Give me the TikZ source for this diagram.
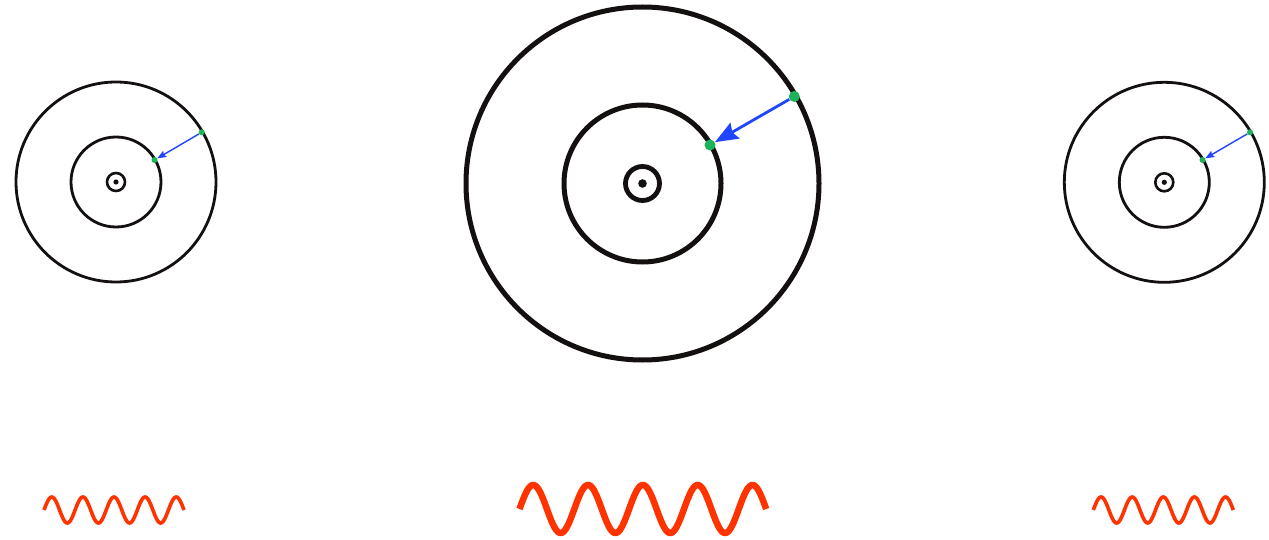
\documentclass[tikz,border=0pt]{standalone}
\usetikzlibrary{arrows.meta}
\definecolor{wavered}{HTML}{FF3300}
\definecolor{arrblue}{HTML}{1F45FF}
\definecolor{dotgreen}{HTML}{1DB35C}
\definecolor{ringblack}{HTML}{141010}
\tikzset{
  ring/.style={draw=ringblack},
  gdot/.style={circle, fill=dotgreen, inner sep=0pt},
  wave/.style={draw=wavered, line cap=butt, line join=round},
}
\begin{document}
\begin{tikzpicture}[x=1pt,y=-1pt]
\useasboundingbox[fill=white] (0,0) rectangle (1269,540);
% ---------- left atom ----------
\draw[ring, line width=2.8pt] (116,182) circle (100);
\draw[ring, line width=2.8pt] (116,182) circle (45);
\draw[ring, line width=2.6pt] (116,182) circle (9);
\fill[ringblack] (116,182) circle (2.6);
\node[gdot, minimum size=6pt] (lo) at (201.7,132.3) {};
\node[gdot, minimum size=6pt] (li) at (154.5,160) {};
\draw[arrblue, line width=1.4pt, -{Stealth[length=9pt,width=7pt,inset=1.5pt]}] (lo) -- (li);
% ---------- middle atom ----------
\draw[ring, line width=5pt] (642.5,183.5) circle (176.5);
\draw[ring, line width=5pt] (642.5,183.5) circle (78.5);
\draw[ring, line width=4.8pt] (642.5,183.5) circle (17);
\fill[ringblack] (642.5,183.5) circle (4.3);
\node[gdot, minimum size=11pt] (mo) at (794.3,96.5) {};
\node[gdot, minimum size=11pt] (mi) at (710,145) {};
\draw[arrblue, line width=2.8pt, -{Stealth[length=23pt,width=18pt,inset=3pt]}] (mo) -- (mi);
% ---------- right atom ----------
\draw[ring, line width=2.8pt] (1164.3,182.3) circle (100);
\draw[ring, line width=2.8pt] (1164.3,182.3) circle (45);
\draw[ring, line width=2.6pt] (1164.3,182.3) circle (9);
\fill[ringblack] (1164.3,182.3) circle (2.6);
\node[gdot, minimum size=6pt] (ro) at (1250,132.3) {};
\node[gdot, minimum size=6pt] (ri) at (1202.5,160) {};
\draw[arrblue, line width=1.4pt, -{Stealth[length=9pt,width=7pt,inset=1.5pt]}] (ro) -- (ri);
% ---------- waves ----------
\draw[wave, line width=3.6pt] plot[domain=0:140, samples=240, smooth] ({44+\x}, {510-13*sin(11.572*\x)});
\draw[wave, line width=6.5pt] plot[domain=0:246.7, samples=300, smooth] ({519.5+\x}, {509-24*sin(6.567*\x)});
\draw[wave, line width=3.6pt] plot[domain=0:140, samples=240, smooth] ({1093.3+\x}, {510-13*sin(11.572*\x)});
\end{tikzpicture}
\end{document}
